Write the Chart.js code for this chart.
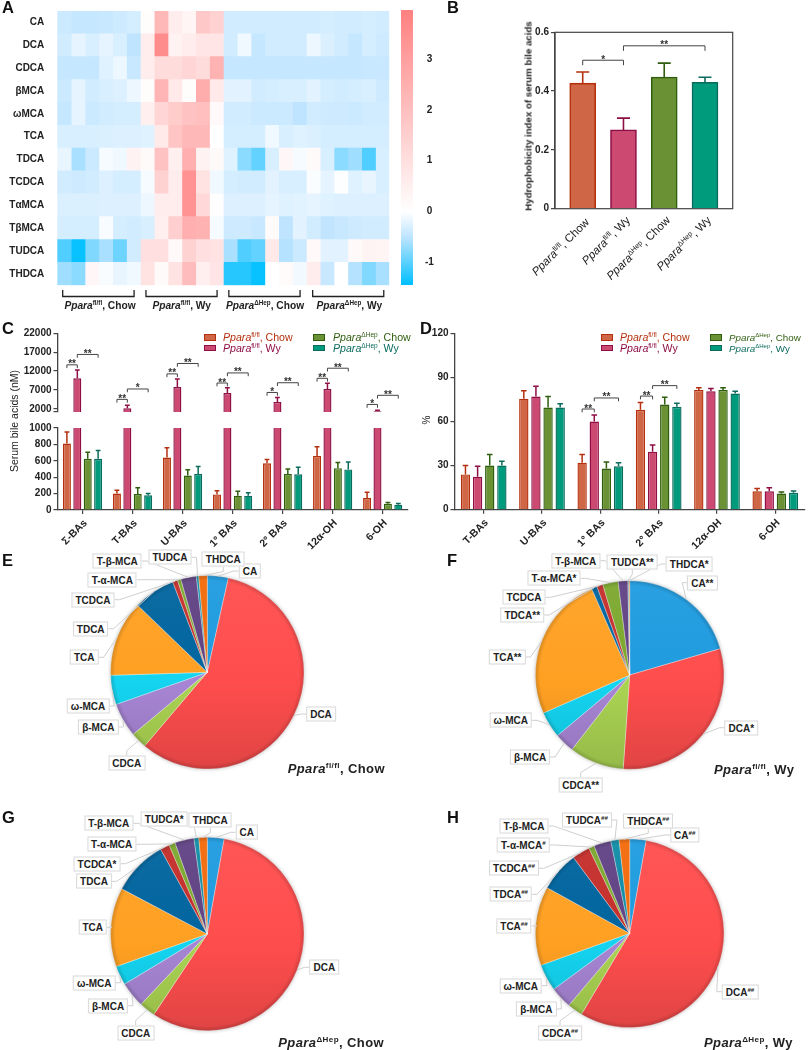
<!DOCTYPE html>
<html lang="en">
<head>
<meta charset="UTF-8">
<title>Serum bile acids in Ppara fl/fl and Ppara dHep mice</title>
<script src="https://cdn.jsdelivr.net/npm/chart.js@4"></script>
<style>
  body { margin: 0; background: #fff; }
  #page { position: relative; width: 808px; height: 1050px; overflow: hidden; font-family: 'Liberation Sans', Arial, sans-serif; font-weight: bold; color: #222; }
  #page canvas { position: absolute; }
  sup { font-size: .62em; line-height: 0; vertical-align: .55em; font-weight: inherit; }
  .note { position: absolute; white-space: nowrap; }
  .box { position: absolute; white-space: nowrap; transform: translate(-50%, -50%); background: #fff; border: 1px solid #d8d8d8; padding: 1px 3px; font-size: 10px; line-height: 11px; }
</style>
</head>
<body>
<div id="page">
  <canvas id="heat" width="395" height="320" style="left:0;top:0"></canvas>
  <canvas id="heatBar" width="45" height="320" style="left:395px;top:0"></canvas>
  <canvas id="hydro" width="368" height="320" style="left:440px;top:0"></canvas>
  <canvas id="serumHigh" width="410" height="100" style="left:0;top:320px"></canvas>
  <canvas id="serumLow" width="410" height="130" style="left:0;top:420px"></canvas>
  <canvas id="percent" width="403" height="230" style="left:405px;top:320px"></canvas>
  <canvas id="pieE" width="404" height="250" style="left:0;top:545px"></canvas>
  <canvas id="pieF" width="404" height="250" style="left:404px;top:545px"></canvas>
  <canvas id="pieG" width="404" height="255" style="left:0;top:795px"></canvas>
  <canvas id="pieH" width="404" height="255" style="left:404px;top:795px"></canvas>
</div>
<script>
// A: heat map values, one list per bile acid, 24 mice
const heatRows = ['CA', 'DCA', 'CDCA', 'βMCA', 'ωMCA', 'TCA', 'TDCA', 'TCDCA', 'TαMCA', 'TβMCA', 'TUDCA', 'THDCA'];
const hCA    = [-.40,-.45,-.45,-.42,-.38,-.33, .10,2.20, .60, .30,1.70,1.40, -.35,-.35,-.35,-.35,-.35,-.35, -.35,-.33,-.35,-.35,-.33,-.35];
const hDCA   = [-.35,-.20,-.30,-.20,-.30,-.50, .60,3.60, .40, .60, .80, .80, -.35,-.12,-.45,-.35,-.35,-.35, -.15,-.28,-.35,-.45,-.33,-.38];
const hCDCA  = [-.45,-.45,-.45,-.25,-.15,-.42, .60,1.10,1.10,1.30,1.10,2.40, -.45,-.45,-.45,-.45,-.45,-.45, -.45,-.45,-.45,-.45,-.43,-.43];
const hBMCA  = [-.40,-.20,-.35,-.30,-.27,-.15, .10,2.30, .70, .10,2.60, .70, -.22,-.22,-.35,-.33,-.30,-.30, -.22,-.32,-.35,-.33,-.30,-.38];
const hWMCA  = [-.45,-.20,-.40,-.35,-.33,-.33, .50,1.30,1.60,1.90,2.00, .20, -.35,-.35,-.40,-.40,-.40,-.50, -.35,-.38,-.38,-.40,-.35,-.35];
const hTCA   = [-.30,-.30,-.30,-.28,-.27,-.27, -.25,.70,1.80,2.20,2.20,0,    -.33,-.33,-.33,-.12,-.30,-.25, -.28,-.32,-.33,-.33,-.33,-.33];
const hTDCA  = [-.18,-.60,-.40,-.07,-.12, .40, .15,1.90, .50,2.50, .40, .15, -.25,-.75,-.95,-.30, .25,-.08, .15,-.30,-.75,-.65,-1.05,-.30];
const hTCDCA = [-.35,-.38,-.35,-.27,-.32,-.32, -.08,1.40,.60,3.40, .90,-.12, -.33,-.35,-.35,-.22,-.30,-.30, -.04,-.20,-.02,-.25,-.18,-.30];
const hTAMCA = [-.28,-.28,-.28,-.27,-.27,-.27, -.15,.60, .60,3.40,1.20,-.01, -.27,-.27,-.27,-.20,-.25,-.23, -.20,-.25,-.27,-.27,-.27,-.27];
const hTBMCA = [-.32,-.32,-.32,-.05,-.32,-.35, -.30,.50,1.50,2.50,2.40,-.08, -.38,-.38,-.42, .12,-.50,-.22, -.35,-.48,-.42,-.38,-.35,-.35];
const hTUDCA = [-1.05,-1.40,-.80,-.60,-.90,-.35, 1.00,1.00,.20,1.40,1.00,.90, -.60,-1.05,-.95,.70,-.55,-.40, .20,-.22,-.22,.20,.35,.30];
const hTHDCA = [-.65,-.75,.25,-.05,-.18,-.12, .90,.15,.90,2.10,.50,.80, -1.25,-1.25,-1.40,0,.12,-.10, .60,-.42,0,-.55,-.80,-.60];
const heatTicks = [-1, 0, 1, 2, 3];

// B: hydrophobicity index
const hydroVals = [.427, .268, .448, .43];
const hydroTops = [.465, .308, .495, .447];
const hydroSig = [[0, 0, 1, .505, '*'], [0, 1, 3, .554, '**']];

// C: serum bile acids (nM)
const serumCats = ['Σ-BAs', 'T-BAs', 'U-BAs', '1° BAs', '2° BAs', '12α-OH', '6-OH'];
const serumFlChow = [810, 200, 640, 190, 570, 660, 145];
const serumFlChowTop = [950, 240, 760, 235, 615, 770, 215];
const serumFlWy = [10075, 2150, 7750, 6170, 3825, 7250, 1350];
const serumFlWyTop = [12250, 2950, 9900, 7575, 5000, 8750, 1620];
const serumHepChow = [625, 195, 420, 175, 440, 510, 75];
const serumHepChowTop = [705, 270, 490, 230, 500, 580, 90];
const serumHepWy = [625, 180, 440, 175, 435, 495, 65];
const serumHepWyTop = [725, 200, 530, 210, 520, 585, 80];
const serumTicksHigh = [1150, 2000, 7000, 12000, 17000, 22000];
const serumTicksLow = [0, 200, 400, 600, 800, 1000];
const serumSig = [
  [0, 0, 1, 13650, '**'], [0, 1, 3, 16400, '**'],
  [1, 0, 1, 4500, '**'], [1, 1, 3, 7250, '*'],
  [2, 0, 1, 11250, '**'], [2, 1, 3, 14000, '**'],
  [3, 0, 1, 8825, '**'], [3, 1, 3, 11500, '**'],
  [4, 0, 1, 6325, '*'], [4, 1, 3, 8900, '**'],
  [5, 0, 1, 10075, '**'], [5, 1, 3, 12750, '**'],
  [6, 0, 1, 3150, '*'], [6, 1, 3, 5575, '**']
];

// D: percent of total
const pctCats = ['T-BAs', 'U-BAs', '1° BAs', '2° BAs', '12α-OH', '6-OH'];
const pctFlChow = [24, 75.5, 32, 68, 81.5, 12.5];
const pctFlChowTop = [30, 81, 37.5, 73, 83, 14.5];
const pctFlWy = [22.5, 77, 60, 39.5, 80.5, 12.5];
const pctFlWyTop = [29.5, 84, 64.5, 44, 82.5, 15];
const pctHepChow = [30, 69.5, 28, 71.5, 81.5, 11];
const pctHepChowTop = [37.5, 77, 32.5, 76.5, 83, 12];
const pctHepWy = [30, 69.5, 29.5, 70, 79, 11.5];
const pctHepWyTop = [33, 72, 32, 72.5, 80.5, 12.8];
const pctTicks = [0, 30, 60, 90, 120];
const pctSig = [[2, 0, 1, 68.5, '**'], [2, 1, 3, 76, '**'], [3, 0, 1, 77.3, '**'], [3, 1, 3, 84.4, '**']];

// E-H: composition, same order round every pie
const pieNames = ['CA', 'DCA', 'CDCA', 'β-MCA', 'ω-MCA', 'TCA', 'TDCA', 'TCDCA', 'T-α-MCA', 'T-β-MCA', 'TUDCA', 'THDCA'];
const valsE = [3.5, 57.8, 2.7, 5.7, 4.9, 12.7, 7, .83, .58, 2.6, .39, 1.42];
const valsF = [20.5, 30.6, 9.4, 3.4, 4.5, 25, .95, 1.05, 2.65, 1.65, .15, .15];
const valsG = [2.8, 56.5, 2.7, 4.3, 3.2, 13.2, 9.25, 1.55, 1.05, 3.2, .8, 1.4];
const valsH = [2.8, 55.7, 2.6, 3.75, 4.6, 13.5, 6.8, 3.05, .95, 2.95, 1.4, 1.8];
const marksE = ['', '', '', '', '', '', '', '', '', '', '', ''];
const marksF = ['**', '*', '**', '', '', '**', '**', '', '*', '', '**', '*'];
const marksG = ['', '', '', '', '', '', '', '*', '', '', '*', ''];
const marksH = ['##', '##', '##', '', '', '##', '##', '##', '#', '', '##', '##'];

// label box centres on the page
const boxesE = [[250,571],[321,714],[126.7,763.3],[98.3,727],[88,706],[84.3,657.3],[90.7,628.7],[93,599.7],[112.3,579.7],[117.3,561],[170,557.3],[223.3,559]];
const boxesF = [[702.3,582.7],[741.3,727.7],[580.7,785],[530,757],[510.7,720.3],[507.3,657],[522.3,615],[524,597.3],[554,578.3],[575.7,560.7],[632.3,561.7],[689.3,564]];
const boxesG = [[246.7,832.3],[324.3,967.3],[135.7,1033],[108,1005.7],[94.3,982.7],[92.7,927.3],[94,881.3],[97,863.7],[111.7,844.3],[108.7,823.3],[164.3,819],[210.3,820.3]];
const boxesH = [[684.7,835],[740,991.7],[560,1033.3],[536.3,1009],[520.7,985.7],[514,926],[510.7,894.3],[514,868.3],[523.3,845],[524,826],[587,820],[648.3,820.7]];

const barFill = ['#CF6746', '#CC4A72', '#6A9134', '#009A7D'];
const barEdge = ['#B5300E', '#8E0F45', '#2E5E0E', '#0B6B5D'];
const pieColors = ['#1E9BDF', '#FF4D4D', '#AAD352', '#A785D4', '#14D4F0', '#FFA022', '#00649E', '#C42E2A', '#7BA82E', '#604284', '#0E8CA5', '#F2690A'];
const axisColor = '#444';
const textColor = '#222';
const groupNames = [ppara('fl/fl') + ', Chow', ppara('fl/fl') + ', Wy', ppara('ΔHep') + ', Chow', ppara('ΔHep') + ', Wy'];

Chart.defaults.font.family = "'Liberation Sans', Arial, sans-serif";
Chart.defaults.font.weight = 'bold';
Chart.defaults.font.size = 10;
Chart.defaults.color = textColor;
Chart.defaults.animation = false;
Chart.defaults.responsive = false;
Chart.defaults.plugins.legend.display = false;
Chart.defaults.plugins.tooltip.enabled = false;

const page = document.getElementById('page');

function ppara(sup) {
  return '<i>Ppara</i><sup>' + sup + '</sup>';
}

function note(html, x, y, css) {
  const el = document.createElement('div');
  el.className = 'note';
  el.innerHTML = html;
  el.style.cssText = 'left:' + x + 'px;top:' + y + 'px;' + css;
  page.appendChild(el);
  return el;
}

function mix(hex, t) {
  // t > 0 goes to white, t < 0 to black
  const n = parseInt(hex.slice(1), 16);
  const c = [n >> 16, (n >> 8) & 255, n & 255].map(v => Math.round(t > 0 ? v + (255 - v) * t : v * (1 + t)));
  return 'rgb(' + c.join(',') + ')';
}

function heatColor(v) {
  if (v >= 0) return mix('#FF8080', 1 - v / 3.96);
  // blue side: pale azure first, deep sky blue at the end
  if (v > -.5) {
    const t = -v / .5;
    return 'rgb(' + Math.round(255 - 65 * t) + ',' + Math.round(255 - 27 * t) + ',255)';
  }
  const t = (-v - .5) / .94;
  return 'rgb(' + Math.round(190 - 190 * t) + ',' + Math.round(228 - 37 * t) + ',255)';
}

function yAxis(min, max, ticks, width) {
  return {
    min: min, max: max,
    afterFit: s => { s.width = width; },
    afterBuildTicks: s => { s.ticks = ticks.map(v => ({ value: v })); },
    border: { color: axisColor, width: 1.3 },
    grid: { drawOnChartArea: false, color: axisColor, tickLength: 4, lineWidth: 1.2 },
    ticks: { padding: 2, color: textColor }
  };
}

function barSets(vals, tops, floor) {
  return vals.map((v, i) => ({
    data: v.map(n => (n > floor ? n : null)),
    tops: tops[i],
    backgroundColor: barFill[i],
    borderColor: barEdge[i],
    borderWidth: 1.4,
    categoryPercentage: .832,
    barPercentage: .77
  }));
}

function xCats(height) {
  return {
    afterFit: s => { s.height = height; },
    border: { color: axisColor, width: 1.3 },
    grid: { offset: false, drawOnChartArea: false, color: axisColor, tickLength: 4, lineWidth: 1.2 },
    ticks: { minRotation: 45, maxRotation: 45, autoSkip: false, padding: 3, labelOffset: 3, color: textColor, font: { size: 10.5 } }
  };
}

// upper error whiskers, from each bar top
function whiskers(capHalf, lineWidth) {
  return {
    id: 'whiskers',
    afterDatasetsDraw(chart) {
      const y = chart.scales.y;
      const ctx = chart.ctx;
      ctx.save();
      ctx.lineWidth = lineWidth;
      chart.data.datasets.forEach((ds, d) => {
        chart.getDatasetMeta(d).data.forEach((bar, i) => {
          const raw = ds.data[i];
          if (raw === null || ds.tops[i] > y.max) return;
          const top = y.getPixelForValue(ds.tops[i]);
          ctx.strokeStyle = Array.isArray(ds.borderColor) ? ds.borderColor[i] : ds.borderColor;
          ctx.beginPath();
          ctx.moveTo(bar.x, bar.y);
          ctx.lineTo(bar.x, top);
          ctx.moveTo(bar.x - capHalf, top);
          ctx.lineTo(bar.x + capHalf, top);
          ctx.stroke();
        });
      });
      ctx.restore();
    }
  };
}

function brackets(list, drop) {
  return {
    id: 'brackets',
    afterDatasetsDraw(chart) {
      const ctx = chart.ctx;
      const many = chart.data.datasets.length > 1;
      const px = (g, b) => (many ? chart.getDatasetMeta(b).data[g].x : chart.getDatasetMeta(0).data[b].x);
      ctx.save();
      ctx.strokeStyle = axisColor;
      ctx.fillStyle = '#333';
      ctx.lineWidth = 1;
      ctx.font = "bold 10px 'Liberation Sans'";
      ctx.textAlign = 'center';
      list.forEach(([g, a, b, v, label]) => {
        const x1 = px(g, a), x2 = px(g, b), y = chart.scales.y.getPixelForValue(v);
        ctx.beginPath();
        ctx.moveTo(x1, y + drop);
        ctx.lineTo(x1, y);
        ctx.lineTo(x2, y);
        ctx.lineTo(x2, y + drop);
        ctx.stroke();
        ctx.fillText(label, (x1 + x2) / 2, y + 2.5);
      });
      ctx.restore();
    }
  };
}

// A: stacked horizontal bars of equal length give the cells
const heatMatrix = [hCA, hDCA, hCDCA, hBMCA, hWMCA, hTCA, hTDCA, hTCDCA, hTAMCA, hTBMCA, hTUDCA, hTHDCA];
new Chart(document.getElementById('heat'), {
  type: 'bar',
  data: {
    labels: heatRows,
    datasets: heatMatrix[0].map((_, col) => ({
      data: heatRows.map(() => 1),
      backgroundColor: heatMatrix.map(row => heatColor(row[col])),
      borderWidth: 0,
      inflateAmount: .4,
      barPercentage: 1,
      categoryPercentage: 1
    }))
  },
  options: {
    indexAxis: 'y',
    layout: { padding: { top: 5, bottom: 34.7, right: 5.7 } },
    scales: {
      x: { display: false, stacked: true, min: 0, max: 24 },
      y: {
        stacked: true,
        afterFit: s => { s.width = 57.3; },
        border: { display: false },
        grid: { display: false },
        ticks: { color: textColor, padding: 5 }
      }
    }
  },
  plugins: [{
    id: 'groupBrackets',
    afterDraw(chart) {
      const ctx = chart.ctx, x = chart.scales.x;
      ctx.save();
      ctx.strokeStyle = '#222';
      ctx.lineWidth = 1.3;
      [[.39, 5.55], [6.41, 11.55], [12.4, 17.55], [18.46, 23.6]].forEach(([a, b]) => {
        ctx.beginPath();
        ctx.moveTo(x.getPixelForValue(a), 290);
        ctx.lineTo(x.getPixelForValue(a), 296.5);
        ctx.lineTo(x.getPixelForValue(b), 296.5);
        ctx.lineTo(x.getPixelForValue(b), 290);
        ctx.stroke();
      });
      ctx.restore();
    }
  }]
});
[100, 181.7, 265, 349.3].forEach((x, i) => {
  note(groupNames[i], x, 305, 'font-size:10.2px;transform:translate(-50%,-50%)');
});

new Chart(document.getElementById('heatBar'), {
  type: 'bar',
  data: {
    labels: ['z'],
    datasets: [{
      data: [[-1.44, 3.96]],
      borderWidth: 0,
      borderSkipped: false,
      barPercentage: 1,
      categoryPercentage: 1,
      backgroundColor: c => {
        const a = c.chart.chartArea;
        if (!a) return '#fff';
        const g = c.chart.ctx.createLinearGradient(0, a.top, 0, a.bottom);
        g.addColorStop(0, '#FF8080');
        g.addColorStop(3.96 / 5.4, '#FFFFFF');
        g.addColorStop(4.46 / 5.4, 'rgb(190,228,255)');
        g.addColorStop(1, '#00BFFF');
        return g;
      }
    }]
  },
  options: {
    layout: { padding: { left: 6, top: 6, bottom: 35 } },
    scales: {
      x: { display: false },
      y: {
        position: 'right', min: -1.44, max: 3.96,
        afterFit: s => { s.width = 27; },
        afterBuildTicks: s => { s.ticks = heatTicks.map(v => ({ value: v })); },
        border: { display: false },
        grid: { display: false },
        ticks: { padding: 4, crossAlign: 'center', color: textColor }
      }
    }
  }
});

// B
new Chart(document.getElementById('hydro'), {
  type: 'bar',
  data: {
    datasets: [{
      data: hydroVals.map((v, i) => ({ x: i, y: v })),
      tops: hydroTops,
      backgroundColor: barFill,
      borderColor: barEdge,
      borderWidth: 1.6,
      barThickness: 26
    }]
  },
  options: {
    layout: { padding: { top: 32.3, bottom: 111.3, right: 75.3 } },
    scales: {
      x: { type: 'linear', offset: false, display: false, min: -.68, max: 3.68 },
      y: yAxis(0, .6, [0, .2, .4, .6], 115)
    }
  },
  plugins: [whiskers(6.5, 1.6), brackets(hydroSig, 5), {
    id: 'boxFrame',
    afterDraw(chart) {
      const a = chart.chartArea, ctx = chart.ctx;
      ctx.save();
      ctx.strokeStyle = axisColor;
      ctx.lineWidth = 1.2;
      ctx.strokeRect(a.left, a.top, a.width, a.height);
      ctx.restore();
    }
  }]
});
[[586.7, 220], [628, 218], [668, 218], [709, 218]].forEach(([x, y], i) => {
  note(groupNames[i], x, y, 'font-size:11.5px;font-weight:normal;transform-origin:100% 50%;transform:translate(-100%,-50%) rotate(-45deg)');
});
note('Hydrophobicity index of serum bile acids', 528, 115.7, 'font-size:9.7px;transform:translate(-50%,-50%) rotate(-90deg)');

// C, broken axis: two charts over the same categories
const serumVals = [serumFlChow, serumFlWy, serumHepChow, serumHepWy];
const serumTops = [serumFlChowTop, serumFlWyTop, serumHepChowTop, serumHepWyTop];
const plainTick = v => (v === 1150 ? '' : String(v));
new Chart(document.getElementById('serumHigh'), {
  type: 'bar',
  data: { labels: serumCats, datasets: barSets(serumVals, serumTops, 1150) },
  options: {
    layout: { padding: { top: 13.3, bottom: 3.3, right: 2.3 } },
    scales: {
      x: { display: false },
      y: Object.assign(yAxis(1150, 22000, serumTicksHigh, 57.5), {
        ticks: { padding: 2, color: textColor, callback: plainTick }
      })
    }
  },
  plugins: [whiskers(2.4, 1.5), brackets(serumSig, 3.3)]
});
new Chart(document.getElementById('serumLow'), {
  type: 'bar',
  data: { labels: serumCats, datasets: barSets(serumVals, serumTops, -1) },
  options: {
    layout: { padding: { top: 6, right: 2.3 } },
    scales: {
      x: xCats(40),
      y: Object.assign(yAxis(0, 1000, serumTicksLow, 57.5), {
        ticks: { padding: 2, color: textColor, callback: plainTick }
      })
    }
  },
  plugins: [whiskers(2.4, 1.5)]
});
note('Serum bile acids (nM)', 14, 421, 'font-size:10.5px;font-weight:normal;transform:translate(-50%,-50%) rotate(-90deg)');

// D
new Chart(document.getElementById('percent'), {
  type: 'bar',
  data: {
    labels: pctCats,
    datasets: barSets([pctFlChow, pctFlWy, pctHepChow, pctHepWy], [pctFlChowTop, pctFlWyTop, pctHepChowTop, pctHepWyTop], -1)
  },
  options: {
    layout: { padding: { top: 13.3, bottom: .3, right: 3.5 } },
    scales: { x: xCats(40), y: yAxis(0, 120, pctTicks, 49.5) }
  },
  plugins: [whiskers(2.8, 1.5), brackets(pctSig, 3.3)]
});
note('%', 425.7, 420, 'font-size:10px;font-weight:normal;transform:translate(-50%,-50%) rotate(-90deg)');

function legend(swatchX, textX, y, i, size) {
  const s = document.createElement('div');
  s.style.cssText = 'position:absolute;left:' + swatchX + 'px;top:' + (y - 3) + 'px;width:10px;height:4.5px;background:' + barFill[i] + ';border:1.2px solid ' + barEdge[i];
  page.appendChild(s);
  note(groupNames[i], textX, y, 'font-size:' + size + 'px;font-weight:normal;transform:translateY(-50%);color:' + barEdge[i]);
}
legend(203.5, 223, 337, 0, 10.6); legend(203.5, 223, 347.7, 1, 10.6);
legend(313, 333, 337, 2, 10.6); legend(313, 333, 347.7, 3, 10.6);
legend(600.7, 620, 337, 0, 10.6); legend(600.7, 620, 347.7, 1, 10.6);
legend(710, 729, 337, 2, 9.8); legend(710, 729, 347.7, 3, 9.8);

// E-H
function makePie(id, vals, marks, boxes, cx, cy, radius) {
  const canvas = document.getElementById(id);
  const left = parseFloat(canvas.style.left), top = parseFloat(canvas.style.top);
  const px = cx - left, py = cy - top;
  const dx = 2 * px - canvas.width, dy = 2 * py - canvas.height;
  const els = boxes.map(([x, y], i) => {
    const el = document.createElement('div');
    el.className = 'box';
    el.style.left = x + 'px';
    el.style.top = y + 'px';
    const m = marks[i];
    el.innerHTML = pieNames[i] + (m[0] === '#' ? '<sup style="font-size:.62em">' + m + '</sup>' : m);
    page.appendChild(el);
    return el;
  });
  new Chart(canvas, {
    type: 'pie',
    data: {
      labels: pieNames,
      datasets: [{
        data: vals,
        radius: radius,
        borderWidth: .6,
        borderColor: 'rgba(255,255,255,.55)',
        backgroundColor: c => {
          const g = c.chart.ctx.createLinearGradient(0, py - radius, 0, py + radius);
          const base = pieColors[c.dataIndex];
          g.addColorStop(0, mix(base, .05));
          g.addColorStop(.55, base);
          g.addColorStop(1, mix(base, -.12));
          return g;
        }
      }]
    },
    options: {
      layout: { padding: { left: Math.max(dx, 0), right: Math.max(-dx, 0), top: Math.max(dy, 0), bottom: Math.max(-dy, 0) } }
    },
    plugins: [{
      id: 'pieDepth',
      beforeDatasetsDraw(chart) {
        const ctx = chart.ctx;
        ctx.save();
        ctx.shadowColor = 'rgba(0,0,0,.35)';
        ctx.shadowBlur = 4;
        ctx.fillStyle = '#ccc';
        ctx.beginPath();
        ctx.arc(px, py, radius - .5, 0, Math.PI * 2);
        ctx.fill();
        ctx.restore();
      },
      afterDatasetsDraw(chart) {
        const ctx = chart.ctx;
        const g = ctx.createRadialGradient(px, py, radius * .95, px, py, radius);
        g.addColorStop(0, 'rgba(0,0,0,0)');
        g.addColorStop(1, 'rgba(0,0,0,.16)');
        ctx.save();
        ctx.fillStyle = g;
        ctx.beginPath();
        ctx.arc(px, py, radius, 0, Math.PI * 2);
        ctx.fill();
        // leader lines from slice edge to its label box
        ctx.strokeStyle = '#cfcfcf';
        ctx.lineWidth = 1;
        const base = canvas.getBoundingClientRect();
        chart.getDatasetMeta(0).data.forEach((arc, i) => {
          const mid = (arc.startAngle + arc.endAngle) / 2;
          const sx = px + Math.cos(mid) * radius, sy = py + Math.sin(mid) * radius;
          const r = els[i].getBoundingClientRect();
          const l = r.left - base.left, t = r.top - base.top, w = r.width, h = r.height;
          let ax, ay, ex, ey;
          if (l + w < sx) { ax = l + w; ay = t + h / 2; ex = ax + 5; ey = ay; }
          else if (l > sx) { ax = l; ay = t + h / 2; ex = ax - 5; ey = ay; }
          else if (t + h < sy) { ax = l + w / 2; ay = t + h; ex = ax; ey = ay + 5; }
          else { ax = l + w / 2; ay = t; ex = ax; ey = ay - 5; }
          ctx.beginPath();
          ctx.moveTo(ax, ay);
          ctx.lineTo(ex, ey);
          ctx.lineTo(sx, sy);
          ctx.stroke();
        });
        ctx.restore();
      }
    }]
  });
}
makePie('pieE', valsE, marksE, boxesE, 207.3, 672.3, 96.7);
makePie('pieF', valsF, marksF, boxesF, 629.7, 675, 94.3);
makePie('pieG', valsG, marksG, boxesG, 207.3, 934, 96.7);
makePie('pieH', valsH, marksH, boxesH, 629.7, 933.3, 94.3);

const titleCss = 'font-size:13px;letter-spacing:.4px;transform:translateY(-50%)';
note(groupNames[0], 287.7, 768, titleCss);
note(groupNames[1], 714, 769, titleCss);
note(groupNames[2], 278.3, 1041.7, titleCss);
note(groupNames[3], 704, 1041.7, titleCss);

// panel letters
[['A', 2, 7], ['B', 447, 7], ['C', 2, 328], ['D', 420, 328], ['E', 2, 560], ['F', 447, 560], ['G', 2, 817], ['H', 447, 817]].forEach(([t, x, y]) => {
  note(t, x, y, 'font-size:16.5px;transform:translateY(-50%);color:#111');
});
</script>
</body>
</html>
